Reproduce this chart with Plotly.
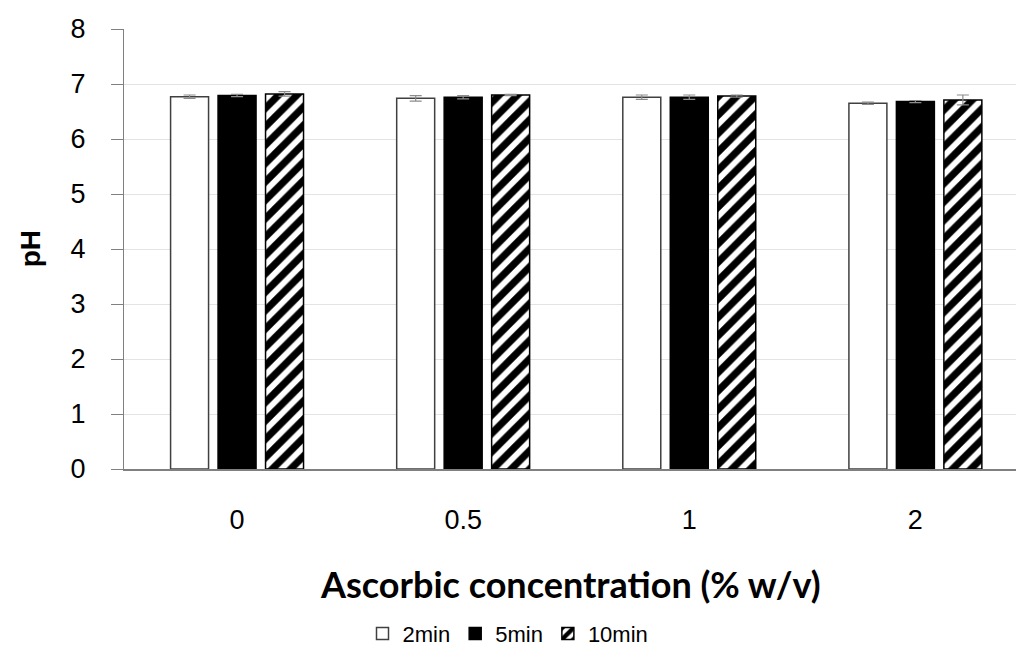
import plotly.graph_objects as go

# Ascorbic acid concentration groups (% w/v)
categories = ["0", "0.5", "1", "2"]

# Mean pH for each immersion time
ph_2min = [6.77, 6.74, 6.76, 6.65]
ph_5min = [6.79, 6.76, 6.76, 6.68]
ph_10min = [6.82, 6.80, 6.78, 6.71]

# Standard deviations
sd_2min = [0.03, 0.05, 0.04, 0.02]
sd_5min = [0.02, 0.03, 0.04, 0.02]
sd_10min = [0.04, 0.01, 0.02, 0.09]

series_names = ["2min", "5min", "10min"]

FONT = "Liberation Sans, Arial, sans-serif"
err_style = dict(type="data", color="#8c8c8c", thickness=1.2, width=6)

fig = go.Figure()
fig.add_trace(go.Bar(
    name=series_names[0], x=categories, y=ph_2min,
    error_y=dict(array=sd_2min, **err_style),
    marker=dict(color="white", line=dict(color="#404040", width=1.5)),
))
fig.add_trace(go.Bar(
    name=series_names[1], x=categories, y=ph_5min,
    error_y=dict(array=sd_5min, **err_style),
    marker=dict(color="black", line=dict(color="black", width=1.5)),
))
fig.add_trace(go.Bar(
    name=series_names[2], x=categories, y=ph_10min,
    error_y=dict(array=sd_10min, **err_style),
    marker=dict(
        color="white",
        line=dict(color="black", width=1.5),
        pattern=dict(shape="/", fgcolor="black", bgcolor="white", fgopacity=1,
                     size=13, solidity=0.55, fillmode="replace"),
    ),
))

fig.update_layout(
    width=1016, height=648,
    margin=dict(l=124, r=0, t=29, b=179),
    paper_bgcolor="white", plot_bgcolor="white",
    barmode="group", bargap=0.37, bargroupgap=0.2,
    font=dict(family=FONT, size=22, color="black"),
    showlegend=True,
    legend=dict(
        orientation="h", xref="container", yref="container",
        x=0.5, xanchor="center", y=0.022, yanchor="middle",
        font=dict(family=FONT, size=22, color="black"),
        traceorder="normal",
    ),
    xaxis=dict(
        type="category", range=[-0.5, 3.445],
        showline=True, linecolor="#808080", linewidth=1.5,
        ticks="", showgrid=False, ticklabelstandoff=26,
        tickfont=dict(family=FONT, size=27, color="black"),
    ),
    yaxis=dict(
        range=[0, 8], dtick=1, tick0=0,
        showline=True, linecolor="#808080", linewidth=1.2,
        ticks="outside", ticklen=12, tickcolor="#808080", tickwidth=1.2,
        showgrid=True, gridcolor="#e3e3e3", gridwidth=1,
        zeroline=False, ticklabelstandoff=20,
        tickfont=dict(family=FONT, size=27, color="black"),
    ),
    annotations=[
        dict(text="<b>pH</b>", xref="paper", yref="paper", x=-0.105, y=0.5,
             textangle=-90, showarrow=False, xanchor="center", yanchor="middle",
             font=dict(family=FONT, size=28, color="black")),
        dict(text="<b>Ascorbic concentration (% w/v)</b>", xref="paper", yref="paper",
             x=0.5, y=(469 - 584) / 440, showarrow=False,
             xanchor="center", yanchor="middle",
             font=dict(family="Lato, Open Sans, sans-serif", size=36, color="black")),
    ],
)

fig.write_html("out.html")
